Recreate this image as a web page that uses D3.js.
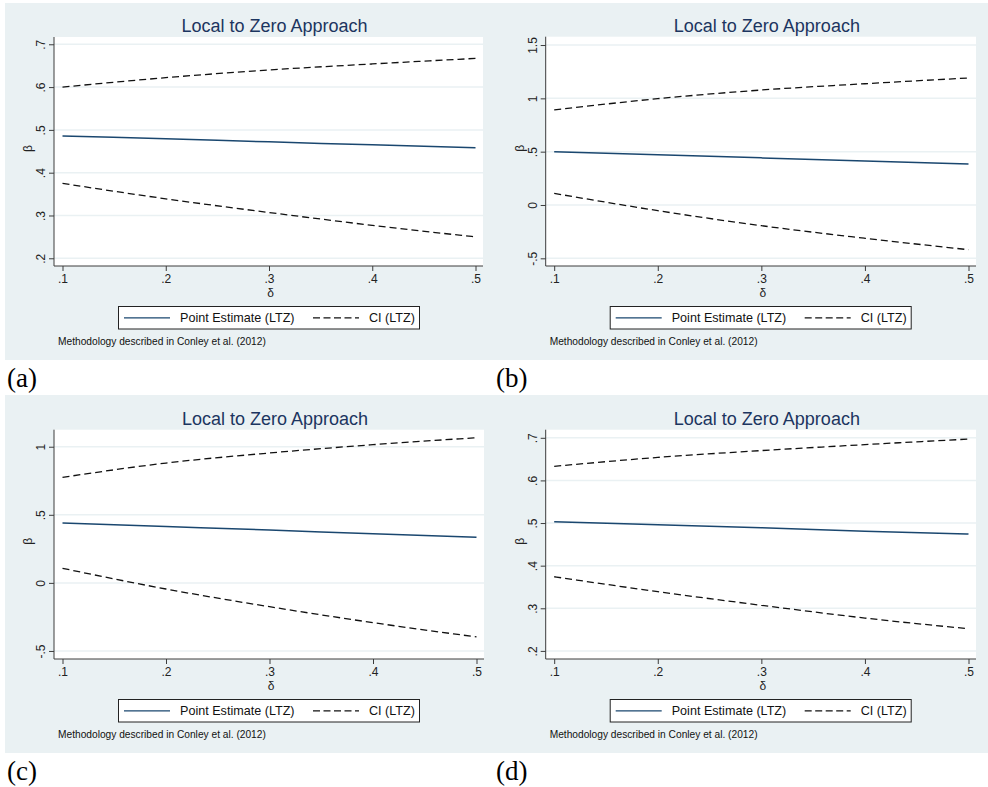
<!DOCTYPE html>
<meta charset="utf-8">
<script src="https://d3js.org/d3.v7.min.js"></script>
<style>
  body { margin: 0; background: #fff; }
  text { font-family: "Liberation Sans", Arial, sans-serif; }
</style>
<div id="chart"></div>
<script>

// x values (delta) shared by all four panels
var delta = [0.1, 0.2, 0.3, 0.4, 0.5];
var xTickLabels = [".1", ".2", ".3", ".4", ".5"];

// panel (a)
var estA = [0.486, 0.479, 0.472, 0.465, 0.458];
var upA  = [0.600, 0.622, 0.640, 0.654, 0.667];
var loA  = [0.375, 0.339, 0.307, 0.277, 0.250];
var yTicksA  = [0.2, 0.3, 0.4, 0.5, 0.6, 0.7];
var yLabelsA = [".2", ".3", ".4", ".5", ".6", ".7"];

// panel (b)
var estB = [0.500, 0.471, 0.442, 0.413, 0.384];
var upB  = [0.891, 0.997, 1.078, 1.137, 1.191];
var loB  = [0.109, -0.053, -0.194, -0.312, -0.419];
var yTicksB  = [-0.5, 0, 0.5, 1, 1.5];
var yLabelsB = ["-.5", "0", ".5", "1", "1.5"];

// panel (c)
var estC = [0.440, 0.414, 0.388, 0.361, 0.335];
var upC  = [0.775, 0.880, 0.954, 1.015, 1.066];
var loC  = [0.107, -0.045, -0.175, -0.292, -0.397];
var yTicksC  = [-0.5, 0, 0.5, 1];
var yLabelsC = ["-.5", "0", ".5", "1"];

// panel (d)
var estD = [0.503, 0.496, 0.489, 0.481, 0.474];
var upD  = [0.633, 0.654, 0.670, 0.684, 0.697];
var loD  = [0.374, 0.339, 0.307, 0.277, 0.252];
var yTicksD  = [0.2, 0.3, 0.4, 0.5, 0.6, 0.7];
var yLabelsD = [".2", ".3", ".4", ".5", ".6", ".7"];

var legendLabels = ["Point Estimate (LTZ)", "CI (LTZ)"];
var titleText = "Local to Zero Approach";
var noteText = "Methodology described in Conley et al. (2012)";

// layout of each panel
var panels = [
  {tag: "(a)", bx: 5,   by: 3,   bw: 489, bh: 357, L: 54,    R: 483, T: 37,    B: 266, dom: [0.182, 0.717],
   est: estA, up: upA, lo: loA, ticks: yTicksA, labels: yLabelsA},
  {tag: "(b)", bx: 494, by: 3,   bw: 494, bh: 357, L: 545.7, R: 976, T: 36.7,  B: 266, dom: [-0.572, 1.578],
   est: estB, up: upB, lo: loB, ticks: yTicksB, labels: yLabelsB},
  {tag: "(c)", bx: 5,   by: 395, bw: 489, bh: 358, L: 54,    R: 484, T: 429.7, B: 659, dom: [-0.559, 1.125],
   est: estC, up: upC, lo: loC, ticks: yTicksC, labels: yLabelsC},
  {tag: "(d)", bx: 494, by: 395, bw: 494, bh: 358, L: 545.7, R: 976, T: 429.7, B: 659, dom: [0.181, 0.719],
   est: estD, up: upD, lo: loD, ticks: yTicksD, labels: yLabelsD}
];

var bg = "#eaf1f3", navy = "#1a476f", axisCol = "#3c3c3c";

var svg = d3.select("#chart")
  .append("svg")
    .attr("width", 988)
    .attr("height", 787);

panels.forEach(function(p) {
  var g = svg.append("g");

  // panel background + white plot region
  g.append("rect")
    .attr("x", p.bx).attr("y", p.by).attr("width", p.bw).attr("height", p.bh)
    .style("fill", bg);
  g.append("rect")
    .attr("x", p.L).attr("y", p.T).attr("width", p.R - p.L).attr("height", p.B - p.T)
    .style("fill", "#fff");

  var x = d3.scaleLinear().domain([0.1, 0.5]).range([p.L + 8.5, p.R - 7.5]);
  var y = d3.scaleLinear().domain(p.dom).range([p.B, p.T]);

  // gridlines
  g.selectAll(".grid")
    .data(p.ticks)
    .enter()
    .append("line")
      .attr("x1", p.L).attr("x2", p.R)
      .attr("y1", function(d) { return y(d) }).attr("y2", function(d) { return y(d) })
      .style("stroke", bg).style("stroke-width", 1.5);

  // y axis with rotated tick labels
  var yAxis = g.append("g")
    .attr("transform", "translate(" + p.L + ",0)")
    .call(d3.axisLeft(y).tickValues(p.ticks).tickSize(5)
      .tickFormat(function(d, i) { return p.labels[i] }));
  yAxis.select(".domain").attr("d", "M0," + p.T + "V" + p.B).style("stroke", axisCol);
  yAxis.selectAll(".tick line").style("stroke", axisCol);
  yAxis.selectAll(".tick text")
    .attr("x", null).attr("dy", null)
    .attr("transform", "translate(-9,0) rotate(-90)")
    .attr("text-anchor", "middle")
    .style("font-size", "12px")
    .style("fill", "#222");

  // x axis
  var xAxis = g.append("g")
    .attr("transform", "translate(0," + p.B + ")")
    .call(d3.axisBottom(x).tickValues(delta).tickSize(5)
      .tickFormat(function(d, i) { return xTickLabels[i] }));
  xAxis.select(".domain").attr("d", "M" + p.L + ",0H" + p.R).style("stroke", axisCol);
  xAxis.selectAll(".tick line").style("stroke", axisCol);
  xAxis.selectAll(".tick text")
    .attr("y", 8).attr("dy", "0.71em")
    .style("font-size", "12px")
    .style("fill", "#222");

  // axis titles
  g.append("text")
    .attr("transform", "translate(" + (p.L - 22) + "," + ((p.T + p.B) / 2 - 3) + ") rotate(-90)")
    .attr("text-anchor", "middle")
    .style("font-size", "12px").style("fill", "#222")
    .text("β");
  g.append("text")
    .attr("x", (p.L + p.R) / 2 + 2).attr("y", p.B + 31)
    .attr("text-anchor", "middle")
    .style("font-size", "12px").style("fill", "#222")
    .text("δ");

  // title
  g.append("text")
    .attr("x", (p.L + p.R) / 2 + 6).attr("y", p.T - 5)
    .attr("text-anchor", "middle")
    .style("font-size", "18px").style("fill", "#1c3560")
    .text(titleText);

  // lines
  var line = function(vals) {
    return d3.line()
      .x(function(d, i) { return x(delta[i]) })
      .y(function(d) { return y(d) })
      .curve(d3.curveMonotoneX)(vals);
  };
  [p.up, p.lo].forEach(function(vals) {
    g.append("path")
      .attr("d", line(vals))
      .style("fill", "none").style("stroke", "#111")
      .style("stroke-width", 1.3).style("stroke-dasharray", "7,4");
  });
  g.append("path")
    .attr("d", line(p.est))
    .style("fill", "none").style("stroke", navy).style("stroke-width", 1.5);

  // legend
  var lx = p.L + 64.5, ly = p.B + 40.5;
  g.append("rect")
    .attr("x", lx).attr("y", ly).attr("width", 301).attr("height", 22.5)
    .style("fill", "#fff").style("stroke", "#222").style("stroke-width", 1);
  g.append("line")
    .attr("x1", lx + 5.5).attr("x2", lx + 51.5).attr("y1", ly + 11.3).attr("y2", ly + 11.3)
    .style("stroke", navy).style("stroke-width", 1.3);
  g.append("line")
    .attr("x1", lx + 194.5).attr("x2", lx + 240.5).attr("y1", ly + 11.3).attr("y2", ly + 11.3)
    .style("stroke", "#111").style("stroke-width", 1.2).style("stroke-dasharray", "7,3.5");
  g.append("text")
    .attr("x", lx + 61.5).attr("y", ly + 15.7)
    .style("font-size", "12.6px").style("fill", "#111")
    .text(legendLabels[0]);
  g.append("text")
    .attr("x", lx + 250.5).attr("y", ly + 15.7)
    .style("font-size", "12.6px").style("fill", "#111")
    .text(legendLabels[1]);

  // note
  g.append("text")
    .attr("x", p.L + 4).attr("y", p.B + 78.5)
    .style("font-size", "10.2px").style("fill", "#111")
    .text(noteText);

  // panel letter
  g.append("text")
    .attr("x", p.bx + 2).attr("y", p.B + 120.5)
    .style("font-family", "'Liberation Serif', 'Times New Roman', serif")
    .style("font-size", "27px").style("fill", "#000")
    .text(p.tag);
});

</script>
